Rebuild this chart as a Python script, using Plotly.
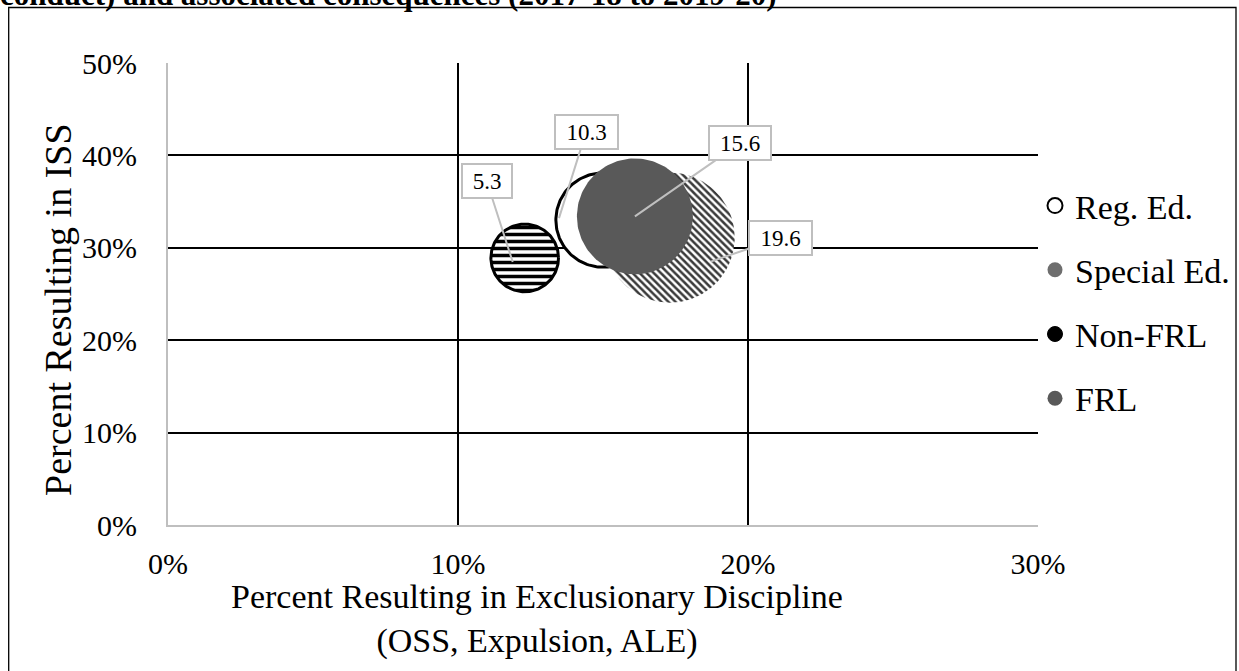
import numpy as np
import plotly.graph_objects as go

# ---------------- data ----------------
groups = ["Reg. Ed.", "Special Ed.", "Non-FRL", "FRL"]
pct_exclusionary = [15.0, 17.3, 12.3, 16.1]   # x (%)
pct_iss = [33.0, 31.1, 28.9, 33.4]            # y (%)
bubble_size = [10.3, 19.6, 5.3, 15.6]         # bubble values (labels)
x_tick_vals = [0, 10, 20, 30]
x_tick_text = ["0%", "10%", "20%", "30%"]
y_tick_vals = [0, 10, 20, 30, 40, 50]
y_tick_text = ["0%", "10%", "20%", "30%", "40%", "50%"]
chart_title = "conduct) and associated consequences (2017-18 to 2019-20)"
x_title = "Percent Resulting in Exclusionary Discipline<br>(OSS, Expulsion, ALE)"
y_title = "Percent Resulting in ISS"

# ---------------- layout geometry ----------------
W, H = 1239, 671
ML, MR, MT, MB = 168, 201, 63, 146
PW, PH = W - ML - MR, H - MT - MB
XR, YR = [0, 30], [0, 50]
px_per_x = PW / (XR[1] - XR[0])
px_per_y = PH / (YR[1] - YR[0])
MAX_R = 65  # pixel radius of the largest bubble
FONT = "Liberation Serif"


def paper_x(px):
    return (px - ML) / PW


def paper_y(py):
    return (H - MB - py) / PH


styles = {
    "Reg. Ed.": dict(fillcolor="white", line=dict(color="black", width=3), pattern=None,
                     legend=dict(color="white", line=dict(color="black", width=2))),
    "Special Ed.": dict(fillcolor="white", line=dict(width=0),
                        pattern=dict(shape="\\", fgcolor="#3a3a3a", bgcolor="white", size=5, solidity=0.5),
                        legend=dict(color="#6e6e6e", line=dict(color="#6e6e6e", width=0))),
    "Non-FRL": dict(fillcolor="white", line=dict(color="black", width=3),
                    pattern=dict(shape="-", fgcolor="black", bgcolor="white", size=7, solidity=0.5),
                    legend=dict(color="black", line=dict(color="black", width=1))),
    "FRL": dict(fillcolor="#595959", line=dict(width=0), pattern=None,
                legend=dict(color="#595959", line=dict(color="#595959", width=0))),
}

fig = go.Figure()
theta = np.linspace(0, 2 * np.pi, 181)
smax = max(bubble_size)
for g, cx, cy, s in zip(groups, pct_exclusionary, pct_iss, bubble_size):
    st = styles[g]
    r = MAX_R * np.sqrt(s / smax)
    xs = cx + r * np.cos(theta) / px_per_x
    ys = cy + r * np.sin(theta) / px_per_y
    kw = dict(x=xs, y=ys, mode="lines", fill="toself", fillcolor=st["fillcolor"],
              line=st["line"] if st["line"].get("width", 0) > 0 else dict(width=0, color="rgba(0,0,0,0)"),
              showlegend=False, hoverinfo="skip")
    if st["pattern"] is not None:
        kw["fillpattern"] = dict(st["pattern"], fillmode="replace")
    fig.add_trace(go.Scatter(**kw))

# legend-only entries
for g in groups:
    st = styles[g]
    fig.add_trace(go.Scatter(x=[None], y=[None], mode="markers", name=g, legendgroup=g,
                             marker=dict(symbol="circle", size=15, **st["legend"])))

# data labels with leader lines
label_cfg = {
    "Reg. Ed.": dict(xshift=-44, yshift=2, ax=27, ay=-86, width=57),
    "Special Ed.": dict(xshift=41, yshift=-24, ax=70, ay=-24, width=57),
    "Non-FRL": dict(xshift=-12, yshift=-4, ax=-26, ay=-81, width=44),
    "FRL": dict(xshift=0, yshift=0, ax=105, ay=-73, width=56),
}
for g, cx, cy, s in zip(groups, pct_exclusionary, pct_iss, bubble_size):
    c = label_cfg[g]
    fig.add_annotation(x=cx, y=cy, xref="x", yref="y", text=f"{s}",
                       showarrow=True, arrowhead=0, arrowwidth=2, arrowcolor="#BFBFBF",
                       ax=c["ax"], ay=c["ay"], xshift=c["xshift"], yshift=c["yshift"],
                       bgcolor="white", bordercolor="#BFBFBF", borderwidth=2, borderpad=2,
                       width=c["width"], height=28,
                       font=dict(family=FONT, size=23, color="black"))

# axis titles as annotations
fig.add_annotation(x=paper_x(537), y=paper_y(619), xref="paper", yref="paper", text=x_title,
                   showarrow=False, xanchor="center", yanchor="middle",
                   font=dict(family=FONT, size=34, color="black"))
fig.add_annotation(x=paper_x(58), y=paper_y(310), xref="paper", yref="paper", text=y_title,
                   showarrow=False, textangle=-90, xanchor="center", yanchor="middle",
                   font=dict(family=FONT, size=38, color="black"))
# cut-off title line at top
fig.add_annotation(x=paper_x(-2), y=paper_y(-6), xref="paper", yref="paper", text="<b>" + chart_title + "</b>",
                   showarrow=False, xanchor="left", yanchor="middle",
                   font=dict(family=FONT, size=31, color="black"))

# outer chart border
fig.add_shape(type="rect", xref="paper", yref="paper",
              x0=paper_x(8.7), x1=paper_x(1236), y0=paper_y(675), y1=paper_y(7.5),
              line=dict(color="black", width=1.3), fillcolor="rgba(0,0,0,0)", layer="below")

axis_common = dict(showgrid=True, gridcolor="black", gridwidth=2, zeroline=False,
                   showline=True, linecolor="#BFBFBF", linewidth=2, ticks="",
                   tickfont=dict(family=FONT, size=30, color="black"),
                   fixedrange=True)
fig.update_xaxes(range=XR, tickvals=x_tick_vals, ticktext=x_tick_text, ticklabelstandoff=11, **axis_common)
fig.update_yaxes(range=YR, tickvals=y_tick_vals, ticktext=y_tick_text, ticklabelstandoff=23, **axis_common)

fig.update_layout(
    width=W, height=H,
    margin=dict(l=ML, r=MR, t=MT, b=MB, autoexpand=False),
    paper_bgcolor="white", plot_bgcolor="white",
    font=dict(family=FONT, color="black"),
    showlegend=True,
    legend=dict(x=paper_x(1035), y=paper_y(177), xanchor="left", yanchor="top",
                font=dict(family=FONT, size=34, color="black"),
                tracegroupgap=17, bgcolor="rgba(0,0,0,0)", borderwidth=0),
)

fig.write_html("out.html", config={"displayModeBar": False},
               post_script="document.body.style.margin='0px';")
